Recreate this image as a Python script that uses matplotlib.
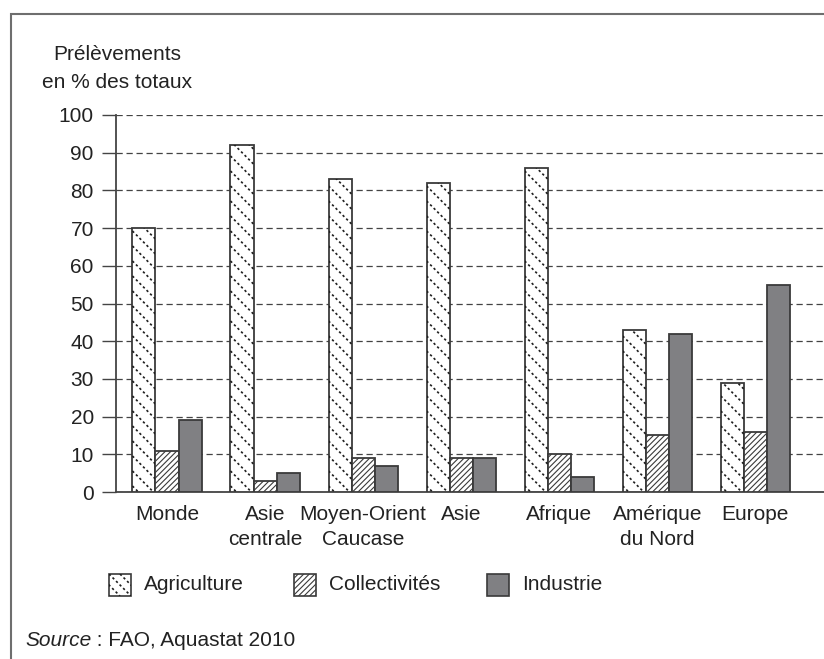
import numpy as np
import matplotlib.pyplot as plt
from matplotlib.patches import Rectangle
from matplotlib.lines import Line2D

plt.rcParams['font.family'] = ['Liberation Sans', 'DejaVu Sans']
plt.rcParams['hatch.linewidth'] = 0.8

regions = ['Monde', 'Asie\ncentrale', 'Moyen-Orient\nCaucase', 'Asie',
           'Afrique', 'Amérique\ndu Nord', 'Europe']
agriculture = [70, 92, 83, 82, 86, 43, 29]
collectivites = [11, 3, 9, 9, 10, 15, 16]
industrie = [19, 5, 7, 9, 4, 42, 55]
series_names = ['Agriculture', 'Collectivités', 'Industrie']
y_ticks = list(range(0, 101, 10))

TXT = '#222222'
EDGE = '#3a3a3a'
GREY = '#808083'
FS = 15

W, H = 824, 659
fig = plt.figure(figsize=(W / 100, H / 100), dpi=100)

# main axes, placed in pixel units
ax_l, ax_r, ax_b, ax_t = 116, 824, 492, 115
ax = fig.add_axes([ax_l / W, 1 - ax_b / H, (ax_r - ax_l) / W, (ax_b - ax_t) / H])
xlim = (-0.52, 6.70)
ax.set_xlim(*xlim)
ax.set_ylim(0, 100)

x = np.arange(len(regions))
bw = 0.235

agri_bars = ax.bar(x - bw, agriculture, bw, facecolor='white', edgecolor=EDGE,
                   linewidth=1.3, zorder=3)
ax.bar(x, collectivites, bw, facecolor='white', edgecolor=EDGE, hatch='//////',
       linewidth=1.3, zorder=3)
ax.bar(x + bw, industrie, bw, facecolor=GREY, edgecolor=EDGE, linewidth=1.3,
       zorder=3)

# dotted diagonal hatching for the agriculture bars
px_x = (ax_r - ax_l) / (xlim[1] - xlim[0])
px_y = (ax_b - ax_t) / 100.0
step = 15  # vertical spacing in pixels
dots = (0, (1.4, 1.6))
for bar in agri_bars:
    x0 = bar.get_x()
    h = bar.get_height()
    wpx = bar.get_width() * px_x
    hpx = h * px_y
    for c in np.arange(6, hpx + wpx + step, step):
        xs = np.array([0, wpx])
        ys = c - xs
        ln = Line2D(x0 + xs / px_x, ys / px_y, color='#1e1e1e', lw=1.2,
                    linestyle=dots, zorder=3.5)
        ax.add_line(ln)
        ln.set_clip_path(bar)

ax.set_yticks(y_ticks)
ax.set_yticklabels([str(v) for v in y_ticks], fontsize=FS, color=TXT)
ax.set_xticks(x)
ax.set_xticklabels(regions, fontsize=FS, color=TXT, linespacing=1.45)
ax.tick_params(axis='x', length=0, pad=9)
ax.tick_params(axis='y', length=10, width=1, color='#444444', pad=6)
ax.yaxis.grid(True, color='#444444', linestyle=(0, (5, 3)), linewidth=0.9)
ax.set_axisbelow(True)
for s in ['top', 'right']:
    ax.spines[s].set_visible(False)
for s in ['left', 'bottom']:
    ax.spines[s].set_color('#444444')
    ax.spines[s].set_linewidth(1.3)

# overlay in pixel coordinates for frame, titles and legend
ov = fig.add_axes([0, 0, 1, 1], zorder=-1)
ov.set_xlim(0, W)
ov.set_ylim(H, 0)
ov.axis('off')
ov.patch.set_alpha(0)
ov.plot([11, 11, W], [H, 14, 14], color='#6e6e6e', lw=1.5, solid_joinstyle='miter')

ov.text(117, 69, 'Prélèvements\nen % des totaux', ha='center', va='center',
        fontsize=FS, color=TXT, linespacing=1.6)

# legend
sq = 22
leg_y = 585
leg_x = [109, 294, 487]
for i, (lx, name) in enumerate(zip(leg_x, series_names)):
    if i == 0:
        r = Rectangle((lx, leg_y - sq / 2), sq, sq, facecolor='white',
                      edgecolor=EDGE, lw=1.2)
        ov.add_patch(r)
        for c in range(-sq, sq, 11):
            ln = Line2D([lx + c, lx + c + sq], [leg_y - sq / 2, leg_y + sq / 2],
                        color='#1e1e1e', lw=1.2, linestyle=dots)
            ov.add_line(ln)
            ln.set_clip_path(r)
    elif i == 1:
        ov.add_patch(Rectangle((lx, leg_y - sq / 2), sq, sq, facecolor='white',
                               edgecolor=EDGE, hatch='//////', lw=1.2))
    else:
        ov.add_patch(Rectangle((lx, leg_y - sq / 2), sq, sq, facecolor=GREY,
                               edgecolor=EDGE, lw=1.2))
    ov.text(lx + sq + 13, leg_y, name, ha='left', va='center', fontsize=FS,
            color=TXT)

src = ov.text(25, 640, 'Source', ha='left', va='center', fontsize=FS,
              color=TXT, style='italic')
ov.annotate(' : FAO, Aquastat 2010', xy=(1, 0), xycoords=src, ha='left',
            va='bottom', fontsize=FS, color=TXT)

fig.savefig('out.png', dpi=100)
